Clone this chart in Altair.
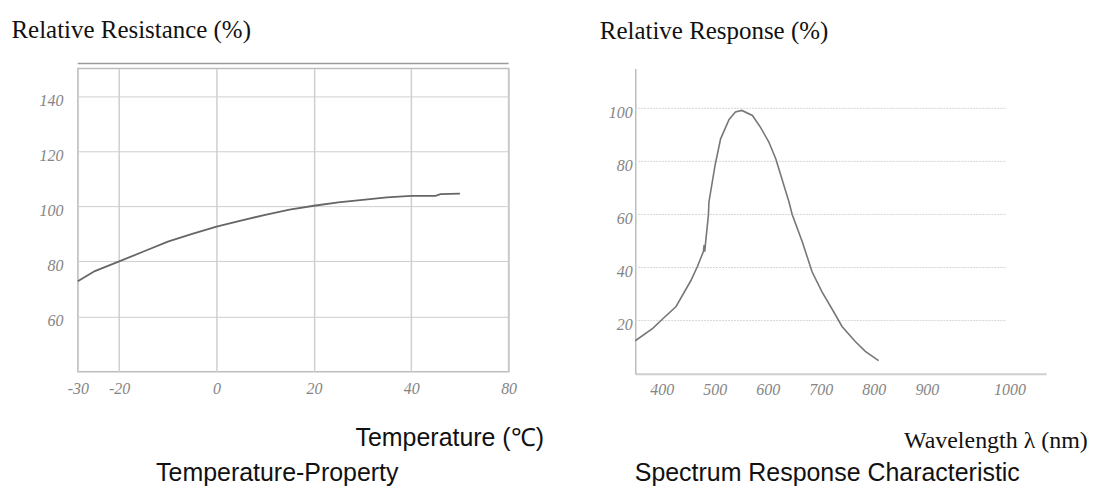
import altair as alt
import pandas as pd

# ---------------- data: Temperature-Property ----------------
temp_c = [-28.5, -25, -20, -15, -10, -5, 0, 5, 10, 15, 20, 25, 30, 35, 40, 45, 46, 50]
rel_resistance = [72.8, 76.5, 80.0, 83.6, 87.2, 90.0, 92.6, 94.8, 96.9, 98.8, 100.2,
                  101.4, 102.3, 103.2, 103.8, 103.8, 104.4, 104.6]
temp_ticks = [-28.5, -20, 0, 20, 40, 60]
temp_tick_labels = ["-30", "-20", "0", "20", "40", "80"]
res_ticks = [60, 80, 100, 120, 140]
temp_domain = [-28.5, 60]
res_domain = [40, 150]
top_rule_value = [151.8]

# ---------------- data: Spectrum Response ----------------
wavelength_nm = [350, 383, 401, 427, 455, 467, 478.5, 480, 481, 484, 488, 489, 500.5, 511,
                 527, 539, 551, 571, 586, 602, 615, 640, 646, 665, 683.5, 702, 727.5, 740,
                 765, 784, 809]
rel_response = [12.4, 17.1, 20.5, 25.3, 35.1, 40.3, 46.0, 48.5, 46.0, 52.0, 59.8, 64.7,
                78.5, 88.5, 95.8, 98.6, 99.2, 97.3, 92.9, 87.3, 81.0, 64.7, 60.0, 49.7,
                38.4, 30.9, 22.2, 17.8, 12.1, 8.4, 4.9]
wl_ticks = [400, 500, 600, 700, 800, 900, 1056]
wl_tick_labels = ["400", "500", "600", "700", "800", "900", "1000"]
resp_ticks = [20, 40, 60, 80, 100]
wl_domain = [350, 1125]
resp_domain = [0, 115]
grid_extent = [350, 1050]

SERIF = "Liberation Serif"
SANS = "Liberation Sans"
LABEL = "#858585"
TEXT = "#111111"


def label_expr(ticks, labels):
    expr = "''"
    for t, l in reversed(list(zip(ticks, labels))):
        expr = f"datum.value == {t} ? '{l}' : ({expr})"
    return expr


# ---------------- left chart ----------------
left_df = pd.DataFrame({"t": temp_c, "r": rel_resistance})
top_df = pd.DataFrame({"x0": [temp_domain[0]], "x1": [temp_domain[1]], "y": top_rule_value})

xs_left = alt.Scale(domain=temp_domain, nice=False, zero=False)
ys_left = alt.Scale(domain=res_domain, nice=False, zero=False)

y_axis_left = alt.Axis(
    values=res_ticks, title="Relative Resistance (%)", titleAngle=0, titleAlign="left",
    titleBaseline="alphabetic", titleX=-67, titleY=-31.5, titleFont=SERIF, titleFontSize=25,
    titleFontWeight="normal", titleColor=TEXT, labelFont=SERIF, labelFontStyle="italic",
    labelFontSize=16, labelColor=LABEL, labelPadding=15, labelOffset=4, ticks=False,
    tickSize=0, domain=False, grid=True, gridColor="#cfcfcf", gridWidth=1)

x_axis_left = alt.Axis(
    values=temp_ticks, labelExpr=label_expr(temp_ticks, temp_tick_labels),
    title="Temperature (℃)", titleX=278, titleY=74.5, titleAlign="left",
    titleBaseline="alphabetic", titleFont=SANS, titleFontSize=25, titleFontWeight="normal",
    titleColor=TEXT, labelFont=SERIF, labelFontStyle="italic", labelFontSize=16,
    labelColor=LABEL, labelPadding=9, labelFlush=False, labelOverlap=False, ticks=False,
    tickSize=0, domain=False, grid=True, gridColor="#cfcfcf", gridWidth=1.5)

left_line = alt.Chart(left_df).mark_line(color="#666666", strokeWidth=1.8).encode(
    x=alt.X("t:Q", scale=xs_left, axis=x_axis_left),
    y=alt.Y("r:Q", scale=ys_left, axis=y_axis_left),
)

left_top = alt.Chart(top_df).mark_rule(color="#9a9a9a", strokeWidth=1.5).encode(
    x=alt.X("x0:Q", scale=xs_left, axis=alt.Axis(
        orient="top", title="Temperature-Property", labels=False, ticks=False, domain=False,
        grid=False, titleX=78, titleY=413, titleAlign="left", titleBaseline="alphabetic",
        titleFont=SANS, titleFontSize=25, titleFontWeight="normal", titleColor=TEXT)),
    x2="x1:Q",
    y=alt.Y("y:Q", scale=ys_left, axis=y_axis_left),
)

left = alt.layer(left_top, left_line).resolve_axis(x="independent").properties(
    width=432, height=304,
    view=alt.ViewBackground(stroke="#bdbdbd", strokeWidth=1.5),
)

# ---------------- right chart ----------------
right_df = pd.DataFrame({"nm": wavelength_nm, "resp": rel_response})
grid_df = pd.DataFrame({"y": resp_ticks, "x0": [grid_extent[0]] * len(resp_ticks),
                        "x1": [grid_extent[1]] * len(resp_ticks)})

xs_right = alt.Scale(domain=wl_domain, nice=False, zero=False)
ys_right = alt.Scale(domain=resp_domain, nice=False, zero=False)

y_axis_right = alt.Axis(
    values=resp_ticks, title="Relative Response (%)", titleAngle=0, titleAlign="left",
    titleBaseline="alphabetic", titleX=-36, titleY=-30, titleFont=SERIF, titleFontSize=25,
    titleFontWeight="normal", titleColor=TEXT, labelFont=SERIF, labelFontStyle="italic",
    labelFontSize=16, labelColor=LABEL, labelPadding=3, labelOffset=4, ticks=False,
    tickSize=0, domain=True, domainColor="#bdbdbd", domainWidth=1.5, grid=False)

x_axis_right = alt.Axis(
    values=wl_ticks, labelExpr=label_expr(wl_ticks, wl_tick_labels),
    title="Wavelength λ (nm)", titleX=269, titleY=74.5, titleAlign="left",
    titleBaseline="alphabetic", titleFont=SERIF, titleFontSize=24, titleFontWeight="normal",
    titleColor=TEXT, labelFont=SERIF, labelFontStyle="italic", labelFontSize=16,
    labelColor=LABEL, labelPadding=8, labelFlush=False, labelOverlap=False, ticks=False,
    tickSize=0, domain=True, domainColor="#cfcfcf", domainWidth=2, grid=False)

right_grid = alt.Chart(grid_df).mark_rule(color="#d6d6d6", strokeWidth=1, strokeDash=[2, 1]).encode(
    x=alt.X("x0:Q", scale=xs_right, axis=alt.Axis(
        orient="top", title="Spectrum Response Characteristic", labels=False, ticks=False,
        domain=False, grid=False, titleX=-1, titleY=413.5, titleAlign="left",
        titleBaseline="alphabetic", titleFont=SANS, titleFontSize=25,
        titleFontWeight="normal", titleColor=TEXT)),
    x2="x1:Q",
    y=alt.Y("y:Q", scale=ys_right, axis=y_axis_right),
)

right_line = alt.Chart(right_df).mark_line(color="#777777", strokeWidth=1.6).encode(
    x=alt.X("nm:Q", scale=xs_right, axis=x_axis_right),
    y=alt.Y("resp:Q", scale=ys_right, axis=y_axis_right),
)

right = alt.layer(right_grid, right_line).resolve_axis(x="independent").properties(
    width=412, height=306,
    view=alt.ViewBackground(stroke="transparent"),
)

chart = alt.hconcat(left, right, spacing=127, bounds="flush").properties(
    padding={"left": 2, "top": 7, "right": 0, "bottom": 0},
    background="white",
)

chart.save("out.html", embed_options={"renderer": "svg", "actions": False})
